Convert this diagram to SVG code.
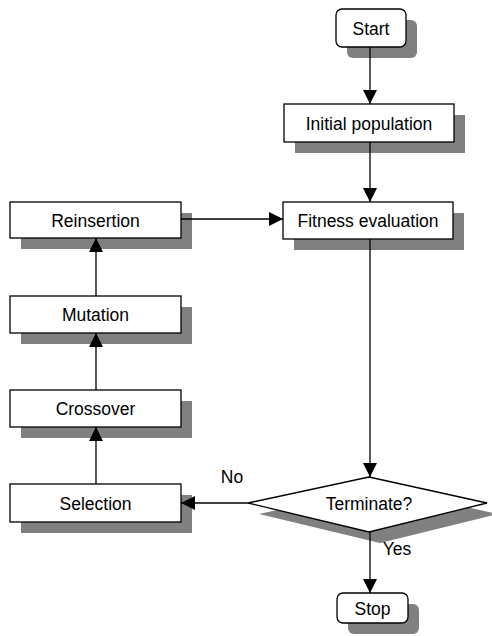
<svg xmlns="http://www.w3.org/2000/svg" width="492" height="636" viewBox="0 0 492 636">
<style>
.sh{fill:#808080;stroke:none}
.bx{fill:#fff;stroke:#000;stroke-width:1.3}
.t{font-family:"Liberation Sans",Arial,sans-serif;font-size:17.5px;fill:#000;text-anchor:middle}
.c{stroke:#000;stroke-width:1.3;fill:none}
</style>
<defs>
<marker id="ah" markerWidth="14" markerHeight="14" viewBox="0 0 14 14" refX="14" refY="7" orient="auto" markerUnits="userSpaceOnUse">
<path d="M0,0 L14,7 L0,14 Z" fill="#000"/>
</marker>
</defs>
<rect width="492" height="636" fill="#fff"/>
<g id="start">
<rect class="sh" x="347" y="20" width="70" height="38" rx="6"/>
<rect class="bx" x="336" y="9" width="70" height="38" rx="6"/>
<text class="t" x="371" y="34.5">Start</text>
</g>
<g id="initial">
<rect class="sh" x="295" y="115" width="170" height="38"/>
<rect class="bx" x="284" y="104" width="170" height="38"/>
<text class="t" x="369" y="129.5">Initial population</text>
</g>
<g id="fitness">
<rect class="sh" x="294" y="213" width="170" height="37"/>
<rect class="bx" x="283" y="202" width="170" height="37"/>
<text class="t" x="368" y="227">Fitness evaluation</text>
</g>
<g id="reinsertion">
<rect class="sh" x="21" y="213" width="171" height="36"/>
<rect class="bx" x="10" y="202" width="171" height="36"/>
<text class="t" x="95.5" y="226.5">Reinsertion</text>
</g>
<g id="mutation">
<rect class="sh" x="21" y="307" width="171" height="37"/>
<rect class="bx" x="10" y="296" width="171" height="37"/>
<text class="t" x="95.5" y="321">Mutation</text>
</g>
<g id="crossover">
<rect class="sh" x="21" y="401" width="171" height="37"/>
<rect class="bx" x="10" y="390" width="171" height="37"/>
<text class="t" x="95.5" y="415">Crossover</text>
</g>
<g id="selection">
<rect class="sh" x="21" y="495" width="171" height="38"/>
<rect class="bx" x="10" y="484" width="171" height="38"/>
<text class="t" x="95.5" y="509.5">Selection</text>
</g>
<g id="terminate">
<polygon class="sh" points="380,488 498,514 380,543 259,514"/>
<polygon class="bx" points="369,477 487,503 369,532 248,503"/>
<text class="t" x="369" y="509.5">Terminate?</text>
</g>
<g id="stop">
<rect class="sh" x="348" y="604" width="71" height="30" rx="6"/>
<rect class="bx" x="337" y="593" width="71" height="30" rx="6"/>
<text class="t" x="372.5" y="614.5">Stop</text>
</g>
<g id="connectors">
<line class="c" x1="370" y1="47" x2="370" y2="104" marker-end="url(#ah)"/>
<line class="c" x1="370" y1="142" x2="370" y2="202" marker-end="url(#ah)"/>
<line class="c" x1="181" y1="219" x2="283" y2="219" marker-end="url(#ah)"/>
<line class="c" x1="370" y1="239" x2="370" y2="477" marker-end="url(#ah)"/>
<line class="c" x1="248" y1="503" x2="181" y2="503" marker-end="url(#ah)"/>
<line class="c" x1="370" y1="532" x2="370" y2="593" marker-end="url(#ah)"/>
<line class="c" x1="96" y1="484" x2="96" y2="427" marker-end="url(#ah)"/>
<line class="c" x1="96" y1="390" x2="96" y2="333" marker-end="url(#ah)"/>
<line class="c" x1="96" y1="296" x2="96" y2="238" marker-end="url(#ah)"/>
<text class="t" x="232" y="483">No</text>
<text class="t" x="397" y="555">Yes</text>
</g>
</svg>
